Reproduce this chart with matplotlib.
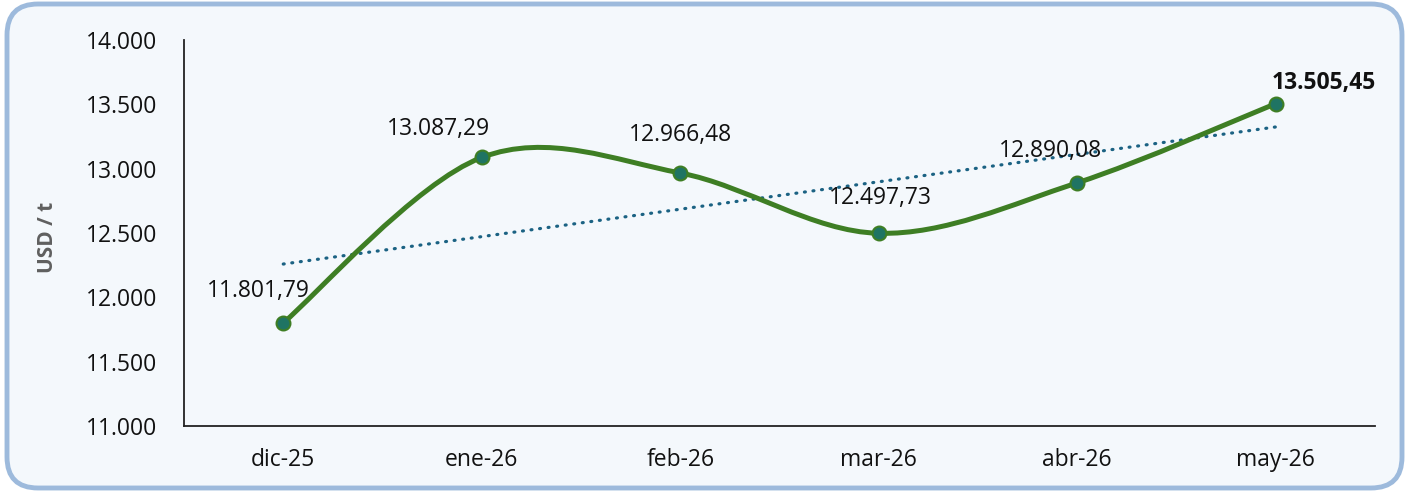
import matplotlib
matplotlib.use("Agg")
import matplotlib.pyplot as plt
import numpy as np
from matplotlib.patches import FancyBboxPatch
from matplotlib.path import Path
from matplotlib.patches import PathPatch

categories = ["dic-25", "ene-26", "feb-26", "mar-26", "abr-26", "may-26"]
values = [11801.79, 13087.29, 12966.48, 12497.73, 12890.08, 13505.45]
labels = ["11.801,79", "13.087,29", "12.966,48", "12.497,73", "12.890,08", "13.505,45"]
yticks = [11000, 11500, 12000, 12500, 13000, 13500, 14000]
ytick_labels = ["11.000", "11.500", "12.000", "12.500", "13.000", "13.500", "14.000"]

plt.rcParams['font.family'] = ['Open Sans', 'DejaVu Sans']

W, H = 1409, 492
fig = plt.figure(figsize=(W / 100, H / 100), dpi=100)
fig.patch.set_facecolor("white")

# rounded border
border = FancyBboxPatch((7 / W, 4 / H), (W - 14) / W, (H - 8) / H,
                        boxstyle="round,pad=0,rounding_size=0.022",
                        transform=fig.transFigure, facecolor="#F4F8FC",
                        edgecolor="#9DBADC", linewidth=3.5, zorder=-10,
                        mutation_aspect=W / H)
fig.patches.append(border)

ax = fig.add_axes([184 / W, 1 - 426 / H, (1375 - 184) / W, (426 - 40) / H])
ax.set_facecolor("none")
ax.set_zorder(2)

x = np.arange(len(values))
y = np.array(values)

# Excel-like smoothed line (Catmull-Rom Bezier, 1/6 tension)
verts = [(x[0], y[0])]
codes = [Path.MOVETO]
n = len(x)
for i in range(n - 1):
    p0 = np.array([x[max(i - 1, 0)], y[max(i - 1, 0)]])
    p1 = np.array([x[i], y[i]])
    p2 = np.array([x[i + 1], y[i + 1]])
    p3 = np.array([x[min(i + 2, n - 1)], y[min(i + 2, n - 1)]])
    c1 = p1 + (p2 - p0) / 6
    c2 = p2 - (p3 - p1) / 6
    verts += [tuple(c1), tuple(c2), tuple(p2)]
    codes += [Path.CURVE4] * 3
path = Path(verts, codes)
ax.add_patch(PathPatch(path, facecolor="none", edgecolor="#3E7E24", linewidth=3.6,
                       capstyle="round", zorder=3))

# trend line
coef = np.polyfit(x, y, 1)
ax.plot(x, np.polyval(coef, x), linestyle=(0, (0.3, 2.4)), color="#1B6283",
        linewidth=2.3, dash_capstyle="round", zorder=2)

ax.plot(x, y, linestyle="none", marker="o", markersize=10, markerfacecolor="#1F7463",
        markeredgecolor="#3E7E24", markeredgewidth=1.5, zorder=4)

offsets = [(-25, 32), (-43, 28), (0, 38), (2, 35), (-27, 32), (48, 21)]
for i, (lab, (dx, dy)) in enumerate(zip(labels, offsets)):
    bold = i == len(labels) - 1
    ax.annotate(lab, (x[i], y[i]), xytext=(dx, dy), textcoords="offset pixels",
                ha="center", va="center", fontsize=16.5,
                fontweight="bold" if bold else "normal", color="#111111", zorder=5)

ax.set_xlim(-0.5, 5.5)
ax.set_ylim(11000, 14000)
ax.set_xticks(x)
ax.set_xticklabels(categories)
ax.set_yticks(yticks)
ax.set_yticklabels(ytick_labels)
ax.tick_params(axis="both", length=0, labelsize=16.5, colors="#111111")
ax.tick_params(axis="x", pad=16)
ax.tick_params(axis="y", pad=19.5)
for s in ["top", "right"]:
    ax.spines[s].set_visible(False)
for s in ["left", "bottom"]:
    ax.spines[s].set_color("#222222")
    ax.spines[s].set_linewidth(1.3)

fig.text(47 / W, 1 - 237 / H, "USD / t", rotation=90, ha="center", va="center",
         fontsize=15, fontweight="bold", color="#5F5F5F")

fig.savefig("out.png", dpi=100)
